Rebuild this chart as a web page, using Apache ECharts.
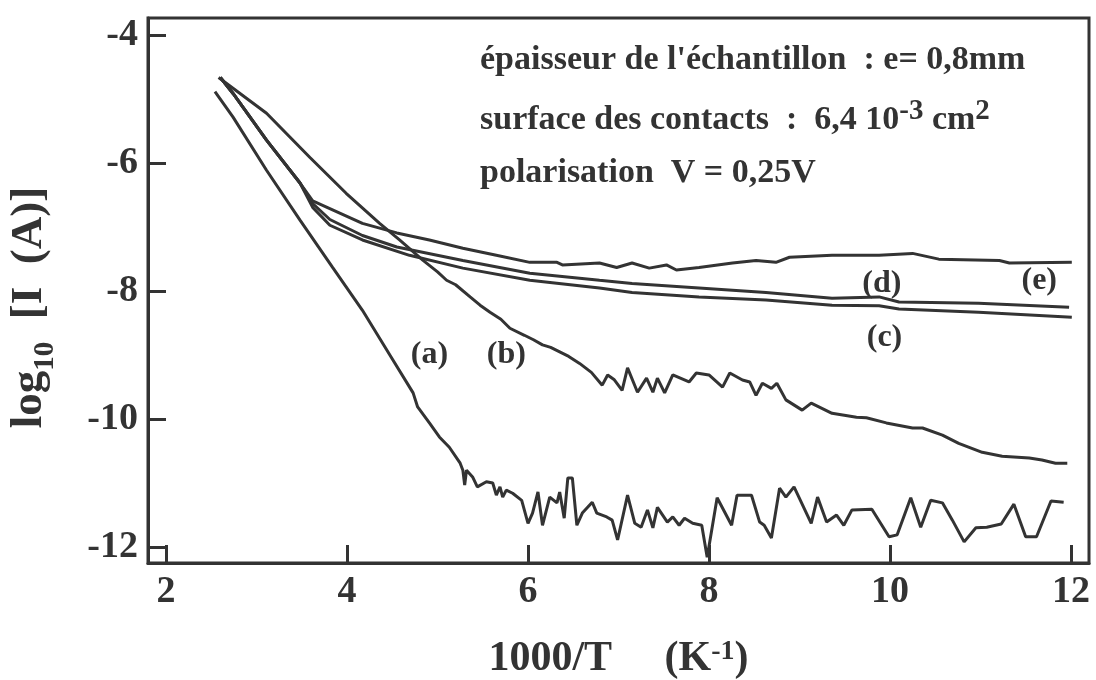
<!DOCTYPE html>
<html><head><meta charset="utf-8">
<script src="https://cdn.jsdelivr.net/npm/echarts@6/dist/echarts.min.js"></script>
<style>html,body{margin:0;padding:0;background:#fff}#c{width:1096px;height:680px}</style>
</head><body><div id="c"></div>
<script>
const xTicks = [2, 4, 6, 8, 10, 12];
const yTicks = [-4, -6, -8, -10, -12];

const curveA = [[2.54,-4.88],[2.74,-5.28],[3.11,-6.11],[3.48,-6.89],[3.84,-7.63],[4.17,-8.30],[4.5,-9.06],[4.73,-9.59],[4.78,-9.81],[4.91,-10.06],[5.02,-10.28],[5.13,-10.44],[5.25,-10.69],[5.28,-10.80],[5.30,-11.03],[5.32,-10.80],[5.39,-10.91],[5.44,-11.06],[5.54,-10.98],[5.61,-11.00],[5.65,-11.19],[5.69,-11.06],[5.72,-11.22],[5.76,-11.11],[5.83,-11.16],[5.93,-11.27],[6.00,-11.63],[6.05,-11.47],[6.11,-11.14],[6.16,-11.66],[6.24,-11.22],[6.32,-11.31],[6.35,-11.14],[6.40,-11.55],[6.44,-10.92],[6.49,-10.92],[6.54,-11.66],[6.60,-11.47],[6.71,-11.30],[6.76,-11.47],[6.87,-11.53],[6.93,-11.58],[6.99,-11.89],[7.10,-11.19],[7.18,-11.63],[7.25,-11.69],[7.32,-11.42],[7.38,-11.70],[7.43,-11.38],[7.54,-11.61],[7.60,-11.53],[7.67,-11.66],[7.73,-11.55],[7.82,-11.63],[7.92,-11.66],[7.98,-12.16],[8.09,-11.23],[8.25,-11.66],[8.31,-11.19],[8.47,-11.19],[8.56,-11.61],[8.61,-11.66],[8.69,-11.86],[8.78,-11.08],[8.85,-11.22],[8.94,-11.06],[9.13,-11.63],[9.20,-11.22],[9.30,-11.61],[9.41,-11.50],[9.49,-11.66],[9.58,-11.42],[9.80,-11.41],[9.99,-11.84],[10.08,-11.81],[10.23,-11.23],[10.34,-11.69],[10.45,-11.27],[10.58,-11.31],[10.69,-11.58],[10.82,-11.92],[10.95,-11.70],[11.07,-11.69],[11.23,-11.64],[11.37,-11.33],[11.50,-11.84],[11.62,-11.84],[11.78,-11.28],[11.92,-11.30]];

const curveB = [[2.58,-4.66],[3.11,-5.22],[3.59,-5.91],[3.99,-6.47],[4.36,-6.94],[4.58,-7.20],[4.84,-7.52],[5.00,-7.70],[5.10,-7.83],[5.20,-7.90],[5.36,-8.09],[5.47,-8.22],[5.58,-8.33],[5.70,-8.44],[5.80,-8.58],[5.96,-8.69],[6.06,-8.76],[6.16,-8.84],[6.25,-8.88],[6.35,-8.95],[6.45,-9.02],[6.57,-9.13],[6.70,-9.27],[6.82,-9.47],[6.88,-9.31],[6.95,-9.38],[7.04,-9.55],[7.10,-9.20],[7.21,-9.58],[7.31,-9.36],[7.38,-9.58],[7.43,-9.36],[7.51,-9.59],[7.60,-9.31],[7.78,-9.42],[7.86,-9.28],[8.00,-9.31],[8.15,-9.50],[8.23,-9.28],[8.37,-9.39],[8.45,-9.42],[8.52,-9.63],[8.59,-9.44],[8.69,-9.52],[8.75,-9.44],[8.85,-9.70],[9.03,-9.86],[9.13,-9.75],[9.36,-9.91],[9.63,-9.97],[9.74,-9.98],[9.96,-10.06],[10.25,-10.14],[10.36,-10.14],[10.58,-10.25],[10.76,-10.38],[11.02,-10.52],[11.24,-10.58],[11.54,-10.61],[11.68,-10.64],[11.83,-10.69],[11.96,-10.69]];

const curveC = [[2.60,-4.66],[2.74,-4.91],[3.11,-5.64],[3.48,-6.31],[3.62,-6.69],[3.81,-6.97],[4.17,-7.20],[4.69,-7.44],[5.28,-7.64],[6.02,-7.83],[6.79,-7.95],[7.15,-8.02],[7.89,-8.09],[8.63,-8.14],[9.36,-8.22],[9.88,-8.23],[10.10,-8.28],[10.98,-8.33],[12.01,-8.41]];

const curveD = [[2.60,-4.66],[2.74,-4.91],[3.11,-5.64],[3.48,-6.31],[3.62,-6.63],[3.81,-6.88],[4.17,-7.13],[4.55,-7.31],[5.28,-7.52],[6.02,-7.72],[6.79,-7.83],[7.15,-7.88],[7.89,-7.95],[8.63,-8.02],[9.36,-8.11],[9.88,-8.09],[10.10,-8.17],[10.98,-8.19],[11.98,-8.25]];

const curveE = [[2.60,-4.66],[2.74,-4.91],[3.11,-5.64],[3.48,-6.31],[3.62,-6.59],[3.84,-6.73],[4.17,-6.94],[4.55,-7.09],[4.91,-7.20],[5.28,-7.33],[5.65,-7.44],[6.02,-7.55],[6.32,-7.55],[6.38,-7.59],[6.79,-7.56],[6.98,-7.63],[7.15,-7.56],[7.34,-7.64],[7.53,-7.59],[7.64,-7.67],[7.89,-7.63],[8.26,-7.56],[8.52,-7.52],[8.74,-7.55],[8.89,-7.47],[9.36,-7.44],[9.88,-7.44],[10.25,-7.41],[10.54,-7.50],[11.21,-7.52],[11.32,-7.56],[12.01,-7.55]];

const curveLabels = [
  { text: '(a)', x: 4.91, y: -9.0 },
  { text: '(b)', x: 5.76, y: -9.0 },
  { text: '(c)', x: 9.94, y: -8.73 },
  { text: '(d)', x: 9.91, y: -7.88 },
  { text: '(e)', x: 11.65, y: -7.84 }
];

const INK = '#333';
const SERIF = '"Liberation Serif", "Times New Roman", serif';

function lineSeries(name, data) {
  return {
    name: name, type: 'line', data: data, showSymbol: false, symbol: 'none',
    lineStyle: { color: INK, width: 3 }, smooth: false, silent: true, z: 3
  };
}

const chart = echarts.init(document.getElementById('c'));
chart.setOption({
  animation: false,
  backgroundColor: '#fff',
  grid: { left: 148, top: 18, right: 7, bottom: 117, containLabel: false, outerBoundsMode: 'none', show: true, borderColor: INK, borderWidth: 3, backgroundColor: 'transparent' },
  xAxis: {
    type: 'value', min: 1.8, max: 12.2,
    axisLine: { show: true, lineStyle: { color: INK, width: 3 } },
    axisTick: { show: true, inside: true, length: 18, customValues: xTicks, lineStyle: { color: INK, width: 3 } },
    axisLabel: { customValues: xTicks, color: INK, fontFamily: SERIF, fontWeight: 'bold', fontSize: 38, margin: 10 },
    splitLine: { show: false },
    name: '{a|1000/T     (K}{s|-1}{a|)}',
    nameLocation: 'middle', nameGap: 75,
    nameTextStyle: {
      rich: {
        a: { fontFamily: SERIF, fontWeight: 'bold', fontSize: 42, color: INK, lineHeight: 42, verticalAlign: 'top' },
        s: { fontFamily: SERIF, fontWeight: 'bold', fontSize: 28, color: INK, lineHeight: 28, verticalAlign: 'top' }
      }
    }
  },
  yAxis: {
    type: 'value', min: -12.25, max: -3.73,
    axisLine: { show: true, lineStyle: { color: INK, width: 3 } },
    axisTick: { show: true, inside: true, length: 18, customValues: yTicks, lineStyle: { color: INK, width: 3 } },
    axisLabel: { customValues: yTicks, color: INK, fontFamily: SERIF, fontWeight: 'bold', fontSize: 38, margin: 10 },
    splitLine: { show: false },
    name: '{a|log}{s|10}{a|  [I  (A)]}',
    nameLocation: 'middle', nameGap: 96,
    nameTextStyle: {
      padding: [0, 34, 0, 0],
      rich: {
        a: { fontFamily: SERIF, fontWeight: 'bold', fontSize: 45, color: INK, lineHeight: 45, verticalAlign: 'top' },
        s: { fontFamily: SERIF, fontWeight: 'bold', fontSize: 29, color: INK, lineHeight: 29, padding: [24, 0, 0, 0], verticalAlign: 'top' }
      }
    }
  },
  graphic: [
    { type: 'text', left: 480, top: 43, style: { text: "épaisseur de l'échantillon  : e= 0,8mm", font: 'bold 34px ' + SERIF, fill: INK } },
    { type: 'text', left: 480, top: 97, style: {
        text: '{a|surface des contacts  :  6,4 10}{s|-3}{a| cm}{s|2}',
        rich: {
          a: { font: 'bold 34px ' + SERIF, fill: INK, lineHeight: 40, verticalAlign: 'bottom' },
          s: { font: 'bold 29px ' + SERIF, fill: INK, lineHeight: 26, verticalAlign: 'top' }
        } } },
    { type: 'text', left: 480, top: 156, style: { text: 'polarisation  V = 0,25V', font: 'bold 34px ' + SERIF, fill: INK } }
  ],
  series: [
    lineSeries('a', curveA),
    lineSeries('b', curveB),
    lineSeries('c', curveC),
    lineSeries('d', curveD),
    lineSeries('e', curveE),
    {
      type: 'scatter', symbolSize: 0, silent: true, z: 4,
      itemStyle: { color: INK, opacity: 1 },
      data: curveLabels.map(d => ({ value: [d.x, d.y], name: d.text })),
      label: { show: true, position: [0, 0], align: 'center', verticalAlign: 'middle', formatter: p => p.name, color: INK, opacity: 1, textBorderWidth: 0, fontFamily: SERIF, fontWeight: 'bold', fontSize: 32 }
    }
  ]
});
</script>
</body></html>
